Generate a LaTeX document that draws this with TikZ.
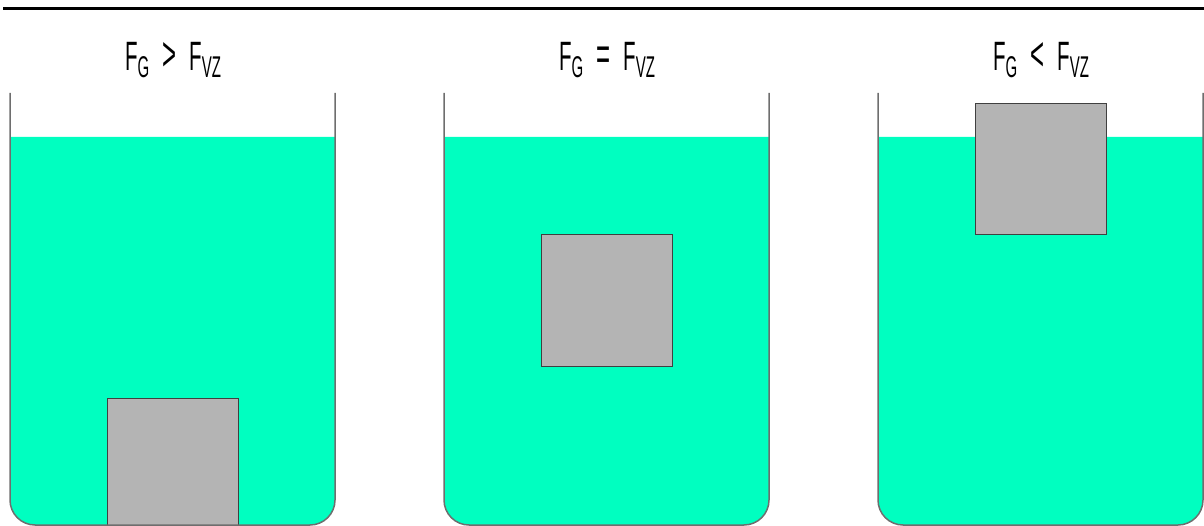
\documentclass[tikz,border=0pt]{standalone}
\usepackage{fontspec}
\setmainfont[FakeStretch=0.5]{Liberation Sans}
\usetikzlibrary{positioning}

\definecolor{watergreen}{RGB}{0,255,192}
\definecolor{blockgray}{RGB}{180,180,180}
\definecolor{wallgray}{RGB}{110,110,110}

\newcommand{\Fsub}[1]{F\raisebox{-7pt}{\fontsize{30}{30}\selectfont #1}}
\newcommand{\Rel}[1]{\hspace{13pt}{\fontsize{48}{48}\selectfont #1}\hspace{13pt}}

\begin{document}
\begin{tikzpicture}[
    x=1pt, y=-1pt,
    liquid/.style={fill=watergreen},
    wall/.style={draw=wallgray, line width=1.5pt},
    body/.style={draw=black!75, fill=blockgray, line width=1pt},
    forcetext/.style={anchor=base, inner sep=0pt, font=\fontsize{41}{41}\selectfont},
    rule/.style={line width=3pt}
]
\useasboundingbox (0,0) rectangle (1204,526);

% Top rule
\draw[rule] (3,8.5) -- (1204,8.5);

% Three beakers: left edge / top of block / relation / name
\foreach \x/\by/\rel/\n in {10/398/>/sink, 444/235/=/float, 878/104/</rise} {
    % water
    \fill[liquid] (\x,137) -- (\x,500) arc[start angle=180, end angle=90, radius=25]
        -- ({\x+300},525) arc[start angle=90, end angle=0, radius=25]
        -- ({\x+325},137) -- cycle;
    % block
    \draw[body] ({\x+97},\by) rectangle ++(131,131);
    % glass
    \draw[wall] (\x,93) -- (\x,500) arc[start angle=180, end angle=90, radius=25]
        -- ({\x+300},525) arc[start angle=90, end angle=0, radius=25]
        -- ({\x+325},93);
    % force relation
    \node[forcetext] (lab-\n) at ({\x+163},71) {\Fsub{G}\Rel{\rel}\Fsub{VZ}};
}

\end{tikzpicture}
\end{document}
